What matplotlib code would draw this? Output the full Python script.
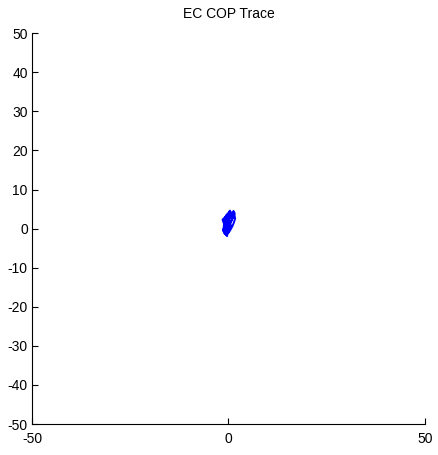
import matplotlib
matplotlib.use('Agg')
import matplotlib.pyplot as plt

# COP trace (mm)
cop_x = [-0.8, -0.5, -1.0, -0.3, -1.2, -0.6, 0.2, -0.4, -1.1, -0.2, 0.4, -0.7,
         -1.3, -0.5, 0.3, 0.6, -0.1, -0.9, -0.4, 0.5, 0.9, 0.2, -0.6, -1.0,
         -0.3, 0.4, 1.0, 1.4, 1.7, 1.5, 0.9, 0.6, 0.9, 1.3, 1.1, 0.5, -0.2,
         -0.7, -0.9, -0.4, 0.1, -0.5, -1.1, -0.8, -0.2, 0.3, -0.3, -0.9, -1.2,
         -0.6, 0.0, -0.4, -0.8, -1.4, -1.0, -0.3, -0.7, -1.2, -0.9, -0.2, 0.2,
         -0.5, -1.1, -1.5, -0.8, -0.1, 0.4, 0.1, -0.6, -1.0, -0.4, 0.2, 0.7,
         1.2, 1.6, 1.3, 0.8, 0.3, -0.3, -0.8, -1.3, -0.9, -0.5]
cop_y = [0.2, 1.0, 1.8, 2.6, 2.0, 3.2, 2.4, 1.5, 0.6, -0.3, 0.5, 1.2,
         0.0, -0.8, -0.2, 0.9, 1.9, 2.8, 3.6, 3.0, 2.2, 1.4, 0.8, -0.6,
         -1.4, -0.5, 0.6, 1.6, 2.6, 3.6, 4.2, 3.4, 2.5, 2.9, 3.8, 4.1, 3.3,
         2.4, 1.2, 0.3, -0.9, -1.7, -1.0, 0.1, 0.9, 1.8, 2.7, 1.9, 0.7,
         -0.4, 0.4, 1.3, 0.5, -0.5, -1.2, -1.9, -1.1, 0.3, 1.5, 2.2, 1.0,
         0.2, 1.1, 2.3, 3.0, 3.9, 4.6, 3.7, 2.9, 2.1, 1.4, 0.6, 1.8,
         3.1, 3.9, 4.5, 3.6, 2.6, 1.7, 0.8, -0.3, -0.9, 0.0]

x_ticks = [-50, 0, 50]
y_ticks = list(range(-50, 51, 10))


def main():
    plt.rcParams['font.family'] = ['Liberation Sans', 'DejaVu Sans']
    plt.rcParams['axes.unicode_minus'] = False
    fig = plt.figure(figsize=(4.38, 4.55), dpi=100)
    ax = fig.add_axes([0.0731, 0.0681, 0.897, 0.859])

    ax.plot(cop_x, cop_y, color='#0000ff', linewidth=1.4)

    ax.set_xlim(-50, 50)
    ax.set_ylim(-50, 50)
    ax.set_xticks(x_ticks)
    ax.set_yticks(y_ticks)
    ax.tick_params(direction='in', length=4, width=0.8, labelsize=10)
    ax.tick_params(axis='x', pad=6)
    ax.tick_params(axis='y', pad=3)

    # box off, like the MATLAB figure
    ax.spines['top'].set_visible(False)
    ax.spines['right'].set_visible(False)
    ax.spines['left'].set_linewidth(0.8)
    ax.spines['bottom'].set_linewidth(0.8)

    ax.set_title('EC COP Trace', fontsize=10, pad=11)

    fig.savefig('out.png', dpi=100)


if __name__ == '__main__':
    main()
